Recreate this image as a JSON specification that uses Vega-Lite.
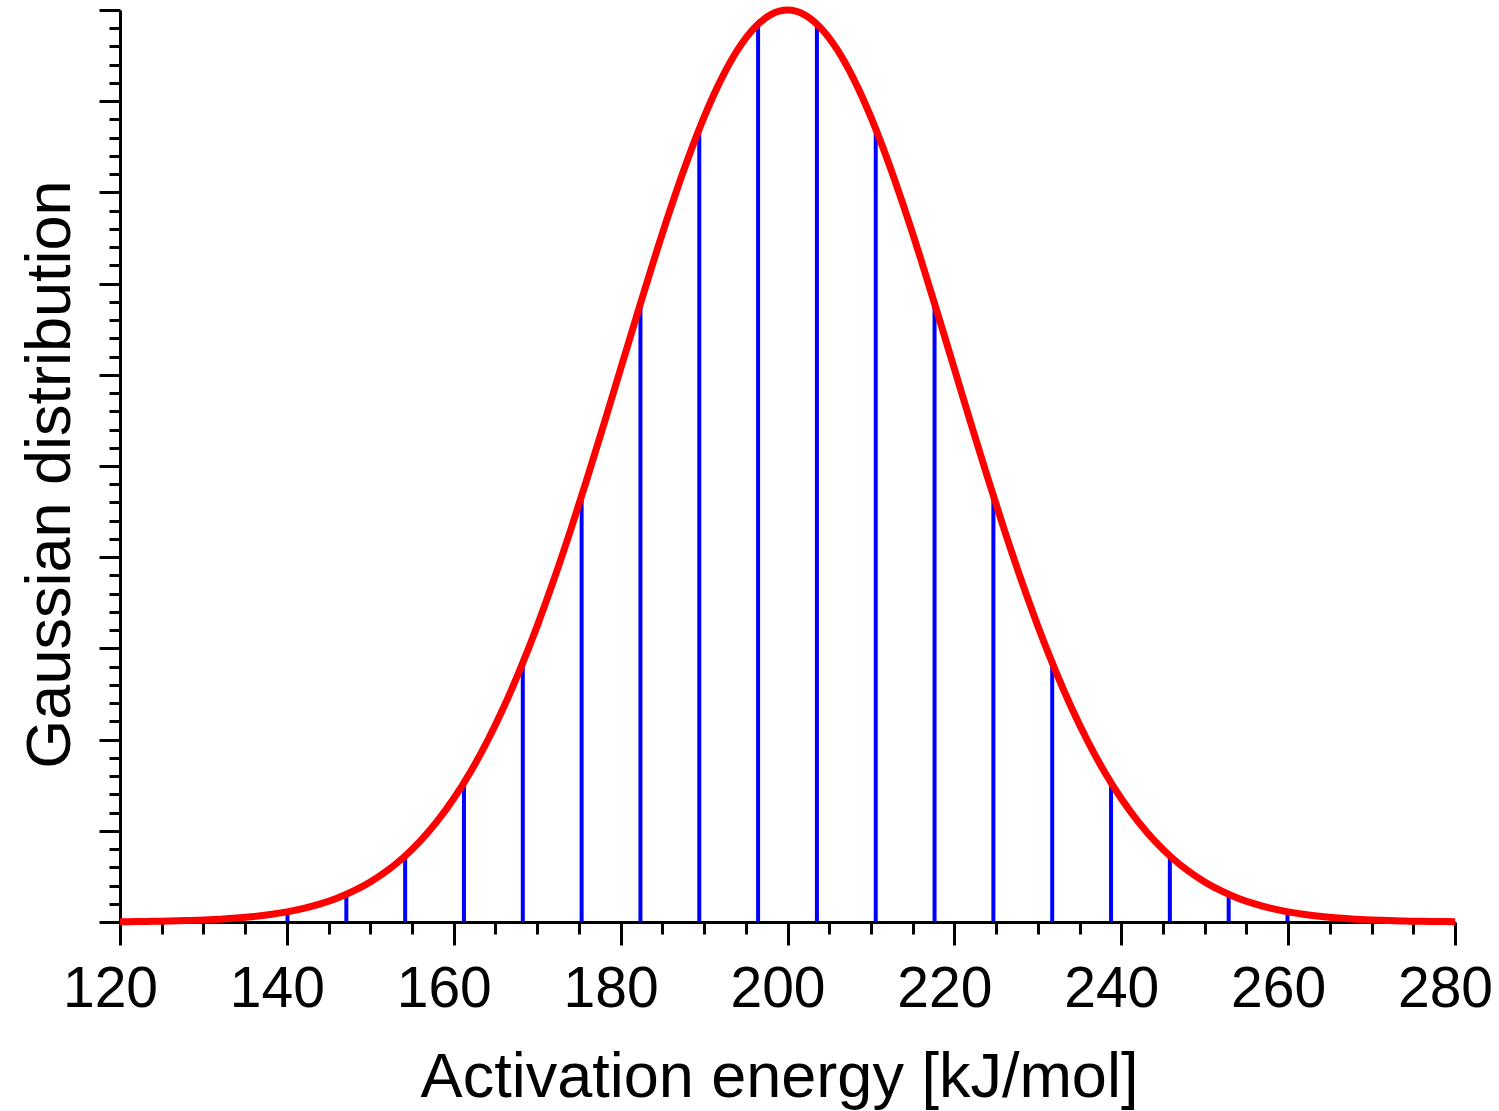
{
  "$schema": "https://vega.github.io/schema/vega-lite/v6.json",
  "autosize": "none",
  "width": 1335,
  "height": 912,
  "padding": {"left": 120, "top": 10, "right": 44, "bottom": 189},
  "background": "white",
  "config": {
    "view": {"stroke": null},
    "axis": {
      "domainColor": "black",
      "domainWidth": 3,
      "tickColor": "black",
      "tickWidth": 3,
      "grid": false,
      "labelFont": "Liberation Sans",
      "labelFontSize": 57,
      "labelColor": "black",
      "titleFont": "Liberation Sans",
      "titleFontSize": 63,
      "titleFontWeight": "normal",
      "titleColor": "black"
    }
  },
  "datasets": {
    "curve": [
      {"energy": 120, "g": 0.000335}, {"energy": 122, "g": 0.000498}, {"energy": 124, "g": 0.000732},
      {"energy": 126, "g": 0.001065}, {"energy": 128, "g": 0.001534}, {"energy": 130, "g": 0.002187},
      {"energy": 132, "g": 0.003089}, {"energy": 134, "g": 0.004318}, {"energy": 136, "g": 0.005976},
      {"energy": 138, "g": 0.008189}, {"energy": 140, "g": 0.011109}, {"energy": 142, "g": 0.014921},
      {"energy": 144, "g": 0.019841}, {"energy": 146, "g": 0.026121}, {"energy": 148, "g": 0.034047},
      {"energy": 150, "g": 0.043937}, {"energy": 152, "g": 0.056135}, {"energy": 154, "g": 0.071006},
      {"energy": 156, "g": 0.088922}, {"energy": 158, "g": 0.110250}, {"energy": 160, "g": 0.135335},
      {"energy": 162, "g": 0.164474}, {"energy": 164, "g": 0.197899}, {"energy": 166, "g": 0.235746},
      {"energy": 168, "g": 0.278037}, {"energy": 170, "g": 0.324652}, {"energy": 172, "g": 0.375311},
      {"energy": 174, "g": 0.429557}, {"energy": 176, "g": 0.486752}, {"energy": 178, "g": 0.546074},
      {"energy": 180, "g": 0.606531}, {"energy": 182, "g": 0.666977}, {"energy": 184, "g": 0.726149},
      {"energy": 186, "g": 0.782705}, {"energy": 188, "g": 0.835270}, {"energy": 190, "g": 0.882497},
      {"energy": 192, "g": 0.923116}, {"energy": 194, "g": 0.955997}, {"energy": 196, "g": 0.980199},
      {"energy": 198, "g": 0.995012}, {"energy": 200, "g": 1.0},
      {"energy": 202, "g": 0.995012}, {"energy": 204, "g": 0.980199}, {"energy": 206, "g": 0.955997},
      {"energy": 208, "g": 0.923116}, {"energy": 210, "g": 0.882497}, {"energy": 212, "g": 0.835270},
      {"energy": 214, "g": 0.782705}, {"energy": 216, "g": 0.726149}, {"energy": 218, "g": 0.666977},
      {"energy": 220, "g": 0.606531}, {"energy": 222, "g": 0.546074}, {"energy": 224, "g": 0.486752},
      {"energy": 226, "g": 0.429557}, {"energy": 228, "g": 0.375311}, {"energy": 230, "g": 0.324652},
      {"energy": 232, "g": 0.278037}, {"energy": 234, "g": 0.235746}, {"energy": 236, "g": 0.197899},
      {"energy": 238, "g": 0.164474}, {"energy": 240, "g": 0.135335}, {"energy": 242, "g": 0.110250},
      {"energy": 244, "g": 0.088922}, {"energy": 246, "g": 0.071006}, {"energy": 248, "g": 0.056135},
      {"energy": 250, "g": 0.043937}, {"energy": 252, "g": 0.034047}, {"energy": 254, "g": 0.026121},
      {"energy": 256, "g": 0.019841}, {"energy": 258, "g": 0.014921}, {"energy": 260, "g": 0.011109},
      {"energy": 262, "g": 0.008189}, {"energy": 264, "g": 0.005976}, {"energy": 266, "g": 0.004318},
      {"energy": 268, "g": 0.003089}, {"energy": 270, "g": 0.002187}, {"energy": 272, "g": 0.001534},
      {"energy": 274, "g": 0.001065}, {"energy": 276, "g": 0.000732}, {"energy": 278, "g": 0.000498},
      {"energy": 280, "g": 0.000335}
    ],
    "stems": [
      {"energy": 125.975, "g": 0.001060}, {"energy": 133.025, "g": 0.003672},
      {"energy": 140.075, "g": 0.011235}, {"energy": 147.125, "g": 0.030357},
      {"energy": 154.175, "g": 0.072446}, {"energy": 161.225, "g": 0.152685},
      {"energy": 168.275, "g": 0.284195}, {"energy": 175.325, "g": 0.467166},
      {"energy": 182.375, "g": 0.678208}, {"energy": 189.425, "g": 0.869542},
      {"energy": 196.475, "g": 0.984588}, {"energy": 203.525, "g": 0.984588},
      {"energy": 210.575, "g": 0.869542}, {"energy": 217.625, "g": 0.678208},
      {"energy": 224.675, "g": 0.467166}, {"energy": 231.725, "g": 0.284195},
      {"energy": 238.775, "g": 0.152685}, {"energy": 245.825, "g": 0.072446},
      {"energy": 252.875, "g": 0.030357}, {"energy": 259.925, "g": 0.011235},
      {"energy": 266.975, "g": 0.003672}, {"energy": 274.025, "g": 0.001060}
    ]
  },
  "encoding": {
    "x": {
      "field": "energy",
      "type": "quantitative",
      "scale": {"domain": [120, 280], "nice": false, "zero": false},
      "axis": {
        "title": "Activation energy [kJ/mol]",
        "values": [120,125,130,135,140,145,150,155,160,165,170,175,180,185,190,195,200,205,210,215,220,225,230,235,240,245,250,255,260,265,270,275,280],
        "tickSize": {"condition": {"test": "datum.value % 20 == 0", "value": 23}, "value": 12},
        "labelExpr": "datum.value % 20 == 0 ? datum.label : ''",
        "labelOverlap": false,
        "labelFlush": false,
        "labelOffset": -10,
        "labelPadding": 16,
        "titleBaseline": "alphabetic",
        "titleX": 659,
        "titleY": 174
      }
    },
    "y": {
      "field": "g",
      "type": "quantitative",
      "scale": {"domain": [0, 1], "nice": false},
      "axis": {
        "title": "Gaussian distribution",
        "values": [0,0.02,0.04,0.06,0.08,0.1,0.12,0.14,0.16,0.18,0.2,0.22,0.24,0.26,0.28,0.3,0.32,0.34,0.36,0.38,0.4,0.42,0.44,0.46,0.48,0.5,0.52,0.54,0.56,0.58,0.6,0.62,0.64,0.66,0.68,0.7,0.72,0.74,0.76,0.78,0.8,0.82,0.84,0.86,0.88,0.9,0.92,0.94,0.96,0.98,1],
        "tickSize": {"condition": {"test": "abs(datum.value * 10 - round(datum.value * 10)) < 0.001", "value": 21}, "value": 11},
        "labels": false,
        "titleBaseline": "alphabetic",
        "titleAngle": -90,
        "titleX": -51,
        "titleY": 464
      }
    }
  },
  "layer": [
    {
      "data": {"name": "stems"},
      "mark": {"type": "rule", "color": "#0000FF", "strokeWidth": 4},
      "encoding": {"y2": {"datum": 0}}
    },
    {
      "data": {"name": "curve"},
      "mark": {"type": "line", "color": "#FF0000", "strokeWidth": 7, "interpolate": "monotone"}
    }
  ]
}
